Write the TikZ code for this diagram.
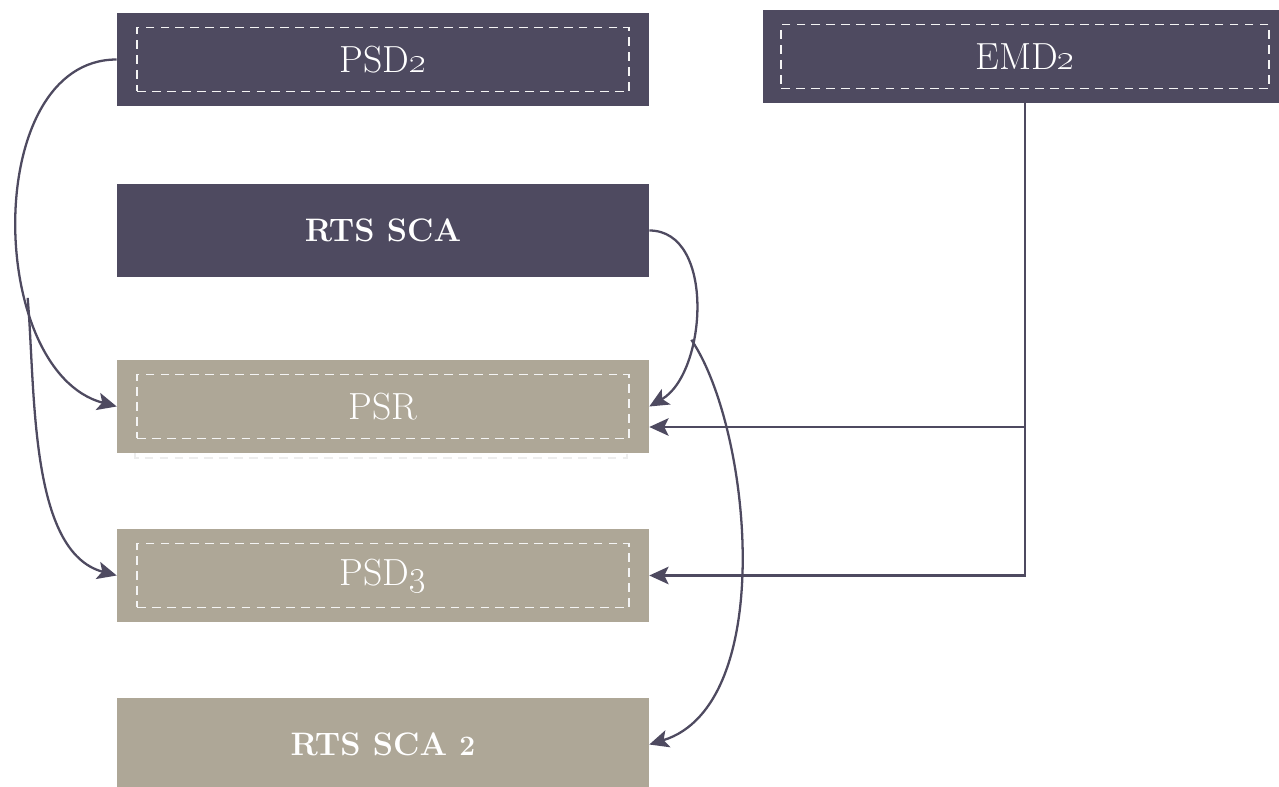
\documentclass[tikz,border=0pt]{standalone}
\usetikzlibrary{arrows.meta}
\definecolor{slate}{HTML}{4E4A60}
\definecolor{taupe}{HTML}{AEA797}
\definecolor{dashwhite}{HTML}{F4F4F4}
\definecolor{ghostgray}{HTML}{EDEDED}

\begin{document}
\begin{tikzpicture}[x=0.02cm,y=0.02cm,
  box/.style={minimum width=10.64cm,minimum height=1.86cm,inner sep=0pt,text=white,font=\fontsize{21.5}{25}\selectfont},
  darkbox/.style={box,fill=slate},
  lightbox/.style={box,fill=taupe},
  boldtext/.style={font=\fontsize{18.5}{22}\selectfont\bfseries},
  inbox/.style={draw=dashwhite,line width=1pt,dash pattern=on 5pt off 3.5pt,minimum width=9.84cm,minimum height=1.28cm,inner sep=0pt},
  conn/.style={draw=slate,line width=1.3pt,-{Stealth[length=11pt,width=10pt,inset=2.5pt]}}]
 \useasboundingbox (0,0) rectangle (1279,-787);

 % faint frame behind PSR
 \draw[ghostgray,line width=1pt,dash pattern=on 5pt off 3.5pt] (135,-393) rectangle (627,-458);

 % boxes
 \node (psd2) at (383,-59.5) [darkbox] {PSD\oldstylenums{2}};
 \node (emd2) at (1025,-56.5) [darkbox,minimum width=10.48cm] {EMD\oldstylenums{2}};
 \node (rts) at (383,-230.5) [darkbox,boldtext] {RTS SCA};
 \node (psr) at (383,-406.5) [lightbox] {PSR};
 \node (psd3) at (383,-575.5) [lightbox] {PSD\oldstylenums{3}};
 \node (rts2) at (383,-744.5) [lightbox,boldtext] {RTS SCA {\fontsize{16}{16}\selectfont\bfseries 2}};

 % dashed inner frames
 \node (psd2in) at (psd2) [inbox] {};
 \node (emd2in) at (emd2) [inbox,minimum width=9.76cm] {};
 \node (psrin) at (psr) [inbox] {};
 \node (psd3in) at (psd3) [inbox] {};

 % connectors
 \draw[conn] (psd2.west) to[out=180,in=165,looseness=1] coordinate[pos=0.66] (forkl) (psr.west);
 \draw[conn] (forkl) to[out=-85,in=165,looseness=0.8] (psd3.west);
 \draw[conn] (rts.east) to[out=0,in=30,looseness=0.97] coordinate[pos=0.64] (forkr) (psr.east);
 \draw[conn] (forkr) to[out=-56,in=17,out distance=2.16cm,in distance=2.68cm] (rts2.east);
 \coordinate (psrtip) at ([yshift=-0.41cm]psr.east);
 \draw[conn] (emd2.south) |- (psd3.east);
 \draw[conn] (emd2.south |- psrtip) -- (psrtip);
\end{tikzpicture}
\end{document}
